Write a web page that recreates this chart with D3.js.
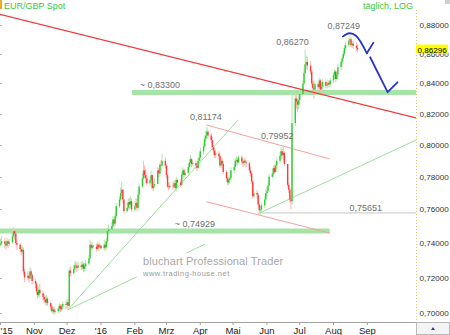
<!DOCTYPE html>
<html>
<head>
<meta charset="utf-8">
<script src="https://cdnjs.cloudflare.com/ajax/libs/d3/7.8.5/d3.min.js"></script>
<style>
	body { margin: 0; background: #fff; }
	svg { display: block; font-family: "Liberation Sans", Arial, sans-serif; }
</style>
</head>
<body>
<svg id="chart" width="450" height="335"></svg>
<script>
// daily EUR/GBP candles, one value per weekday from 2015-10-01 to 2016-08-23
// open of each day = close of the day before
var firstOpen = 0.7390;
var closes = [
	.7400,.7410,.7395,.7385,.7410,.7395,.7405,.7440,.7470,.7455,.7400,.7390,.7365,.7350,.7360,.7235,.7200,.7210,.7195,.7235,.7215,.7180,
	.7165,.7120,.7100,.7130,.7110,.7090,.7075,.7060,.7080,.7055,.7035,.7010,.7020,.7005,.7010,.7025,.7040,.7020,.7035,.7050,.7045,
	.7060,.7040,.7240,.7225,.7250,.7270,.7265,.7255,.7270,.7260,.7275,.7250,.7265,.7280,.7310,.7390,.7370,.7385,.7380,.7365,.7390,.7375,.7385,
	.7370,.7390,.7375,.7410,.7470,.7480,.7500,.7540,.7515,.7560,.7620,.7660,.7700,.7720,.7660,.7590,.7610,.7645,.7630,.7650,.7600,
	.7620,.7640,.7610,.7690,.7740,.7790,.7840,.7810,.7790,.7760,.7780,.7810,.7730,.7745,.7755,.7840,.7820,.7875,.7870,.7900,.7870,
	.7810,.7740,.7735,.7745,.7740,.7760,.7730,.7780,.7765,.7750,.7815,.7840,.7810,.7825,.7860,.7890,.7910,.7880,.7885,.7870,.7855,.7900,.7920,
	.7960,.7990,.8040,.8060,.8085,.8060,.8030,.7985,.7965,.7935,.7945,.7930,.7870,.7900,.7880,.7830,.7790,.7765,.7780,.7790,.7840,
	.7860,.7900,.7905,.7890,.7920,.7895,.7885,.7900,.7890,.7885,.7840,.7820,.7770,.7680,.7700,.7690,.7630,.7595,.7600,.7625,.7660,.7700,
	.7710,.7745,.7800,.7820,.7855,.7830,.7870,.7900,.7930,.7960,.7935,.7950,.7880,.7750,.7720,.7660,.7650,.8140,.8300,.8280,.8260,.8290,
	.8330,.8400,.8470,.8530,.8545,.8520,.8480,.8400,.8370,.8360,.8395,.8375,.8420,.8360,.8380,.8410,.8385,.8390,.8405,.8395,.8420,
	.8455,.8480,.8430,.8460,.8510,.8545,.8570,.8600,.8640,.8660,.8690,.8700,.8660,.8670,.8655,.8640,.8630
];
var highs = [
	.7425,.7440,.7430,.7415,.7430,.7420,.7425,.7460,.7493,.7480,.7460,.7415,.7400,.7380,.7385,.7375,.7250,.7235,.7225,.7260,.7250,.7225,
	.7195,.7175,.7140,.7150,.7165,.7125,.7105,.7095,.7100,.7090,.7065,.7045,.7040,.7035,.7030,.7040,.7055,.7050,.7050,.7065,.7070,
	.7080,.7075,.7255,.7265,.7270,.7290,.7295,.7285,.7290,.7290,.7295,.7285,.7285,.7300,.7330,.7420,.7405,.7400,.7390,.7395,.7410,.7400,.7400,
	.7390,.7420,.7410,.7430,.7490,.7510,.7525,.7560,.7550,.7580,.7640,.7680,.7735,.7770,.7725,.7670,.7640,.7665,.7670,.7680,.7665,
	.7650,.7670,.7665,.7720,.7760,.7820,.7900,.7870,.7850,.7815,.7800,.7840,.7815,.7770,.7790,.7860,.7855,.7890,.7905,.7945,.7920,
	.7880,.7820,.7765,.7770,.7770,.7780,.7775,.7800,.7790,.7785,.7830,.7860,.7850,.7845,.7880,.7910,.7935,.7920,.7900,.7900,.7885,.7920,.7950,
	.7985,.8010,.8060,.8090,.8117,.8100,.8075,.8050,.8000,.7985,.7965,.7960,.7945,.7920,.7915,.7895,.7840,.7800,.7800,.7810,.7860,
	.7880,.7915,.7930,.7920,.7935,.7935,.7910,.7920,.7915,.7905,.7895,.7860,.7830,.7780,.7720,.7720,.7700,.7640,.7625,.7640,.7680,.7725,
	.7735,.7765,.7815,.7850,.7870,.7875,.7890,.7920,.7955,.7985,.7975,.7995,.7960,.7880,.7765,.7730,.7690,.8335,.8370,.8325,.8300,.8330,
	.8355,.8420,.8510,.8627,.8590,.8580,.8550,.8490,.8420,.8415,.8420,.8410,.8440,.8430,.8405,.8430,.8425,.8410,.8425,.8420,.8440,
	.8475,.8495,.8490,.8480,.8530,.8560,.8590,.8620,.8660,.8685,.8710,.8725,.8715,.8695,.8690,.8680,.8665
];
var lows = [
	.7380,.7385,.7370,.7360,.7375,.7370,.7380,.7395,.7430,.7420,.7385,.7360,.7345,.7330,.7335,.7215,.7175,.7185,.7170,.7180,.7190,.7160,
	.7140,.7105,.7080,.7085,.7090,.7070,.7055,.7045,.7040,.7040,.7015,.7000,.6995,.6990,.6995,.7000,.7010,.7005,.7010,.7020,.7020,
	.7030,.7020,.7035,.7205,.7215,.7230,.7240,.7230,.7240,.7240,.7245,.7230,.7235,.7250,.7270,.7305,.7355,.7360,.7370,.7350,.7360,.7355,.7365,
	.7360,.7355,.7355,.7365,.7400,.7450,.7465,.7490,.7490,.7500,.7545,.7610,.7650,.7680,.7640,.7575,.7580,.7595,.7600,.7610,.7585,
	.7590,.7600,.7590,.7600,.7670,.7730,.7780,.7790,.7760,.7745,.7740,.7760,.7720,.7710,.7730,.7770,.7795,.7800,.7840,.7860,.7850,
	.7790,.7730,.7715,.7720,.7720,.7730,.7715,.7710,.7740,.7735,.7745,.7800,.7790,.7795,.7810,.7845,.7870,.7860,.7870,.7850,.7835,.7850,.7880,
	.7900,.7940,.7980,.8020,.8040,.8040,.8010,.7970,.7940,.7920,.7915,.7905,.7855,.7855,.7860,.7815,.7770,.7745,.7750,.7755,.7780,
	.7820,.7840,.7870,.7870,.7880,.7875,.7860,.7865,.7870,.7860,.7825,.7800,.7755,.7665,.7670,.7665,.7615,.7580,.7565,.7580,.7610,.7655,
	.7680,.7700,.7735,.7790,.7800,.7815,.7820,.7850,.7880,.7915,.7910,.7900,.7865,.7735,.7700,.7640,.7600,.7630,.8120,.8230,.8215,.8230,
	.8260,.8320,.8390,.8460,.8500,.8490,.8460,.8380,.8340,.8300,.8340,.8350,.8360,.8340,.8345,.8360,.8370,.8365,.8370,.8375,.8380,
	.8400,.8430,.8410,.8420,.8440,.8490,.8520,.8555,.8585,.8620,.8645,.8670,.8645,.8640,.8635,.8620,.8610
];
var lastPrice = 0.86296;

var monthLabels = ["'15", "Nov", "Dez", "'16", "Feb", "Mrz", "Apr", "Mai", "Jun", "Jul", "Aug", "Sep"];
var yTicks = [0.70, 0.72, 0.74, 0.76, 0.78, 0.80, 0.82, 0.84, 0.86, 0.88];

// drawn-in analysis, in [date, price]
var trendRed = [["2015-10-01", 0.8874], ["2016-10-16", 0.8173]];
var channelUpper = [["2016-04-07", 0.8128], ["2016-07-29", 0.7911]];
var channelLower = [["2016-04-07", 0.7647], ["2016-07-29", 0.7459]];
var fanSteep = [["2015-12-02", 0.7017], ["2016-05-06", 0.8160]];
var fanFlat = [["2015-12-02", 0.7017], ["2016-04-06", 0.7394]];
var riseLine = [["2016-05-24", 0.7573], ["2016-10-16", 0.8031]];
var supportLow = [["2016-05-28", 0.7579], ["2016-10-16", 0.7579]];
var bandHigh = [["2016-01-30", 0.8340], ["2016-10-16", 0.8340]];
var bandLow = [["2015-10-01", 0.7471], ["2016-07-29", 0.7471]];
var arcPath = [["2016-08-10", 0.8720], ["2016-08-16", 0.8742], ["2016-08-22", 0.8725], ["2016-09-01", 0.8604]];
var arcTail = [["2016-09-01", 0.8604], ["2016-09-07", 0.8677]];
var dropPath = [["2016-09-04", 0.8577], ["2016-09-20", 0.8342], ["2016-09-29", 0.8408]];

var labelTexts = ["0,87249", "0,86270", "0,81174", "0,79952", "~ 0,83300", "~ 0,74929", "0,75651"];
var labelAnchors = [["2016-07-27", 0.8772], ["2016-06-10", 0.8661], ["2016-03-23", 0.8160], ["2016-05-27", 0.8038],
	["2016-02-06", 0.8370], ["2016-03-09", 0.7495], ["2016-08-16", 0.7591]];

var parse = d3.timeParse("%Y-%m-%d");
var plotW = 416, plotH = 322;

var x = d3.scaleTime()
	.domain([new Date(2015, 9, 1), new Date(2016, 9, 16)])
	.range([0, plotW]);
var y = d3.scaleLog()
	.domain([0.6950, 0.8976])
	.range([plotH, 0]);

var fmt = function(v) { return v.toFixed(5).replace(".", ","); };

var dates = d3.timeDay.range(new Date(2015, 9, 1), new Date(2016, 7, 24))
	.filter(function(d) { return d.getDay() !== 0 && d.getDay() !== 6; });
var n = Math.min(dates.length, closes.length);
var candles = d3.range(n).map(function(i) {
	return {
		date: dates[i],
		open: i ? closes[i - 1] : firstOpen,
		close: closes[i],
		high: highs[i],
		low: lows[i]
	};
});

var svg = d3.select("#chart");
svg.append("defs").append("clipPath").attr("id", "plot")
	.append("rect").attr("width", plotW).attr("height", plotH);

var plot = svg.append("g").attr("clip-path", "url(#plot)");

var line = d3.line()
	.x(function(d) { return x(parse(d[0])); })
	.y(function(d) { return y(d[1]); });

function drawLine(pts, colour, width) {
	return plot.append("path")
		.attr("d", line(pts))
		.attr("fill", "none")
		.attr("stroke", colour)
		.attr("stroke-width", width);
}

// support / resistance bands
drawLine(bandLow, "#a6e3a6", 5);
drawLine(bandHigh, "#a6e3a6", 5);

// thin helper lines
drawLine(supportLow, "#c4c4c4", 1);
drawLine(fanSteep, "#8fdc8f", 0.9);
drawLine(fanFlat, "#8fdc8f", 0.9);
drawLine(riseLine, "#8fdc8f", 0.9);
drawLine(channelUpper, "#f5a0a0", 1);
drawLine(channelLower, "#f5a0a0", 1);

// watermark box hides what runs under it
svg.append("rect")
	.attr("x", 137).attr("y", 253).attr("width", 150).attr("height", 26)
	.attr("fill", "#fff");
svg.append("text")
	.attr("x", 143).attr("y", 265)
	.attr("font-size", 11).attr("letter-spacing", 0.1)
	.attr("fill", "#a8a8a8")
	.text("bluchart Professional Trader");
svg.append("text")
	.attr("x", 143).attr("y", 276)
	.attr("font-size", 7.5).attr("letter-spacing", 0.5)
	.attr("fill", "#9a9a9a")
	.text("www.trading-house.net");

// candles
var cg = plot.append("g");
cg.selectAll(".wick")
	.data(candles)
	.enter().append("line")
		.attr("class", "wick")
		.attr("x1", function(d) { return x(d.date) + 0.5; })
		.attr("x2", function(d) { return x(d.date) + 0.5; })
		.attr("y1", function(d) { return y(d.high); })
		.attr("y2", function(d) { return y(d.low); })
		.attr("stroke", function(d) { return d.close >= d.open ? "#aee8ae" : "#ffb4b4"; })
		.attr("stroke-width", 1);
cg.selectAll(".data_point")
	.data(candles)
	.enter().append("rect")
		.attr("class", "data_point")
		.attr("x", function(d) { return x(d.date) - 0.2; })
		.attr("width", 1.4)
		.attr("y", function(d) { return y(Math.max(d.open, d.close)); })
		.attr("height", function(d) {
			return Math.max(0.8, Math.abs(y(d.open) - y(d.close)));
		})
		.attr("fill", function(d) { return d.close >= d.open ? "#2fcc2f" : "#ff3a3a"; });

// main downtrend
drawLine(trendRed, "#f23c3c", 1.3);

// blue scenario sketch
var curve = d3.line()
	.x(function(d) { return x(parse(d[0])); })
	.y(function(d) { return y(d[1]); })
	.curve(d3.curveCatmullRom);
[curve(arcPath), line(arcTail), line(dropPath)].forEach(function(p) {
	plot.append("path").attr("d", p)
		.attr("fill", "none")
		.attr("stroke", "#2a36c8")
		.attr("stroke-width", 1.8)
		.attr("stroke-linejoin", "round")
		.attr("stroke-linecap", "round");
});

// price notes
svg.selectAll(".note")
	.data(labelTexts)
	.enter().append("text")
		.attr("class", "note")
		.attr("x", function(d, i) { return x(parse(labelAnchors[i][0])); })
		.attr("y", function(d, i) { return y(labelAnchors[i][1]); })
		.attr("font-size", 9)
		.attr("fill", "#707070")
		.text(function(d) { return d; });

// titles
svg.append("rect").attr("x", 0).attr("y", 0).attr("width", 2).attr("height", 9).attr("fill", "#f5a623");
svg.append("text").attr("x", 4).attr("y", 9)
	.attr("font-size", 9).attr("fill", "#3cc83c")
	.text("EUR/GBP Spot");
svg.append("text").attr("x", 413).attr("y", 9)
	.attr("font-size", 9).attr("fill", "#3cc83c")
	.attr("text-anchor", "end")
	.text("täglich, LOG");
svg.append("rect").attr("x", 445).attr("y", 0).attr("width", 5).attr("height", 4).attr("fill", "#cfcfcf");

// left edge ticks
svg.selectAll(".ltick")
	.data(yTicks)
	.enter().append("line")
		.attr("x1", 0).attr("x2", 2)
		.attr("y1", function(d) { return Math.round(y(d)) + 0.5; })
		.attr("y2", function(d) { return Math.round(y(d)) + 0.5; })
		.attr("stroke", "#b0b0b0");

// right price axis
svg.append("line")
	.attr("x1", plotW + 0.5).attr("x2", plotW + 0.5)
	.attr("y1", 10).attr("y2", plotH)
	.attr("stroke", "#e6c66a")
	.attr("stroke-dasharray", "1,2");
svg.selectAll(".ylab")
	.data(yTicks)
	.enter().append("text")
		.attr("class", "ylab")
		.attr("x", 419.5)
		.attr("y", function(d) { return y(d) + 3; })
		.attr("font-size", 8.1)
		.attr("fill", "#333")
		.text(fmt);

// current price marker
svg.append("rect")
	.attr("x", plotW).attr("y", y(lastPrice) - 5)
	.attr("width", 32).attr("height", 9)
	.attr("fill", "#ffff00");
svg.append("text")
	.attr("x", 417.5).attr("y", y(lastPrice) + 3)
	.attr("font-size", 8.1).attr("fill", "#000")
	.text(fmt(lastPrice));

// time axis
var months = d3.timeMonth.range(new Date(2015, 9, 1), new Date(2016, 9, 1));
var xAxis = svg.append("g")
	.attr("transform", "translate(0," + plotH + ")")
	.call(d3.axisBottom(x)
		.tickValues(months)
		.tickFormat(function(d, i) { return monthLabels[i]; })
		.tickSize(3)
		.tickSizeOuter(0)
		.tickPadding(2));
xAxis.select(".domain").attr("stroke", "#a0a0a0");
xAxis.selectAll(".tick line").attr("stroke", "#a0a0a0");
xAxis.selectAll(".tick text")
	.attr("font-family", "Liberation Sans, Arial, sans-serif")
	.attr("font-size", 9.5)
	.attr("fill", "#222");
xAxis.select(".tick text").attr("text-anchor", "start");

// corner box
svg.append("rect")
	.attr("x", plotW + 0.5).attr("y", plotH + 0.5)
	.attr("width", 33).attr("height", 12)
	.attr("fill", "#f4f4f4").attr("stroke", "#b8b8b8");
svg.append("path")
	.attr("d", "M431,330 L433,327 L435,330 Z")
	.attr("fill", "#2a36c8");
</script>
</body>
</html>
